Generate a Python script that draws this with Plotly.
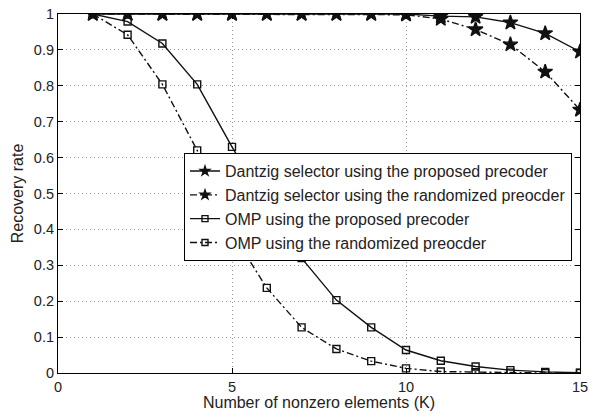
import plotly.graph_objects as go

K = list(range(1, 16))
ds_proposed = [1, 1, 1, 1, 1, 1, 1, 1, 1, 1, 0.994, 0.992, 0.976, 0.946, 0.895]
ds_random = [1, 1, 1, 1, 1, 1, 1, 1, 1, 0.998, 0.986, 0.957, 0.915, 0.839, 0.733]
omp_proposed = [1, 0.979, 0.918, 0.804, 0.63, 0.465, 0.32, 0.203, 0.127, 0.064, 0.034, 0.018, 0.008, 0.003, 0.001]
omp_random = [1, 0.942, 0.804, 0.62, 0.39, 0.237, 0.127, 0.067, 0.033, 0.013, 0.004, 0.002, 0.001, 0.0, 0.0]

names = [
    "Dantzig selector using the proposed precoder",
    "Dantzig selector using the randomized preocder",
    "OMP using the proposed precoder",
    "OMP using the randomized preocder",
]
x_ticks = [0, 5, 10, 15]
y_ticks = [0, 0.1, 0.2, 0.3, 0.4, 0.5, 0.6, 0.7, 0.8, 0.9, 1]

col = "#111111"
dash_dot = "7px,3px,2px,3px"
series = [
    (ds_proposed, "solid", "star", 11, 7),
    (ds_random, dash_dot, "star", 11, 7),
    (omp_proposed, "solid", "square-open", 7, 6),
    (omp_random, dash_dot, "square-open", 7, 6),
]

fig = go.Figure()
for (vals, dash, sym, msize, lsize), name in zip(series, names):
    fig.add_trace(go.Scatter(
        x=K, y=vals, name=name, mode="lines+markers", showlegend=False,
        line=dict(color=col, width=1.4, dash=dash),
        marker=dict(symbol=sym, size=msize, color=col, line=dict(color=col, width=1.4)),
    ))
for (vals, dash, sym, msize, lsize), name in zip(series, names):
    fig.add_trace(go.Scatter(
        x=[None], y=[None], name=name, mode="lines+markers", showlegend=True,
        line=dict(color=col, width=1.4, dash=dash),
        marker=dict(symbol=sym, size=lsize, color=col, line=dict(color=col, width=1.4)),
    ))

axis_common = dict(
    showline=True, linecolor="black", linewidth=1.2, mirror="ticks",
    ticks="inside", ticklen=5, tickcolor="black", automargin=False,
    showgrid=True, gridcolor="#9a9a9a", gridwidth=1, griddash="1px,3px",
    zeroline=False, tickfont=dict(size=14.5, color="#222222"),
)
fig.update_xaxes(range=[0, 15], tickvals=x_ticks, ticktext=[str(v) for v in x_ticks],
                 title=dict(text="Number of nonzero elements (K)", font=dict(size=16, color="#222222"), standoff=0),
                 **axis_common)
fig.update_yaxes(range=[0, 1], tickvals=y_ticks, ticktext=["0"] + [f"{v:g}" for v in y_ticks[1:]],
                 title=dict(text="Recovery rate", font=dict(size=16, color="#222222"), standoff=6),
                 **axis_common)

fig.update_layout(
    width=590, height=414,
    margin=dict(l=58, r=10, t=14, b=41),
    paper_bgcolor="white", plot_bgcolor="white",
    font=dict(family="Liberation Sans, Arial, sans-serif", color="#222222"),
    legend=dict(x=0.241, y=0.613, xanchor="left", yanchor="top",
                bgcolor="white", bordercolor="black", borderwidth=1.2,
                font=dict(size=16, color="#222222"), tracegroupgap=0,
                itemwidth=30),
)

# remove the browser's default 8px page margin so the figure sits at the window's corner
fig.write_html("out.html", config={"displayModeBar": False},
               post_script="document.body.style.margin='0px';")
